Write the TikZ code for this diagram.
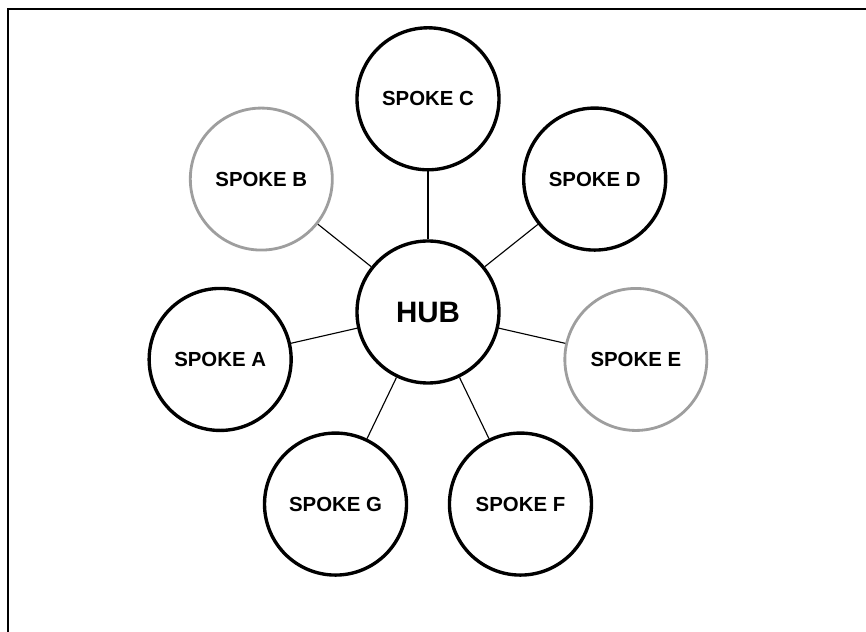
\documentclass[tikz,border=0pt]{standalone}
\usepackage{fontspec}
\setmainfont{Liberation Sans}
\usepackage{tikz}

\begin{document}
\begin{tikzpicture}[
    spoke/.style={circle, draw, line width=2.4pt, minimum size=3.55cm, inner sep=0pt,
      font=\fontsize{14.5}{16}\selectfont\bfseries},
    pale/.style={draw=black!38, line width=2pt},
    link/.style={line width=0.8pt}]
  \useasboundingbox (-10.7, -8.0) rectangle (10.95, 7.8);
  \draw [line width=0.8pt] (-10.5, -8.0) -- (-10.5, 7.575) -- (10.95, 7.575);

  \node [spoke, font=\fontsize{21}{24}\selectfont\bfseries] (hub) at (0, 0) {HUB};

  \node [spoke] (c) at (90:5.33) {SPOKE C};
  \node [spoke] (d) at (38.57:5.33) {SPOKE D};
  \node [spoke, pale] (e) at (-12.86:5.33) {SPOKE E};
  \node [spoke] (f) at (-64.29:5.33) {SPOKE F};
  \node [spoke] (g) at (-115.71:5.33) {SPOKE G};
  \node [spoke] (a) at (192.86:5.33) {SPOKE A};
  \node [spoke, pale] (b) at (141.43:5.33) {SPOKE B};

  \draw [link] (hub) -- (a);
  \draw [link] (hub) -- (b);
  \draw [link] (hub) -- (c);
  \draw [link] (hub) -- (d);
  \draw [link] (hub) -- (e);
  \draw [link] (hub) -- (f);
  \draw [link] (hub) -- (g);
\end{tikzpicture}
\end{document}
